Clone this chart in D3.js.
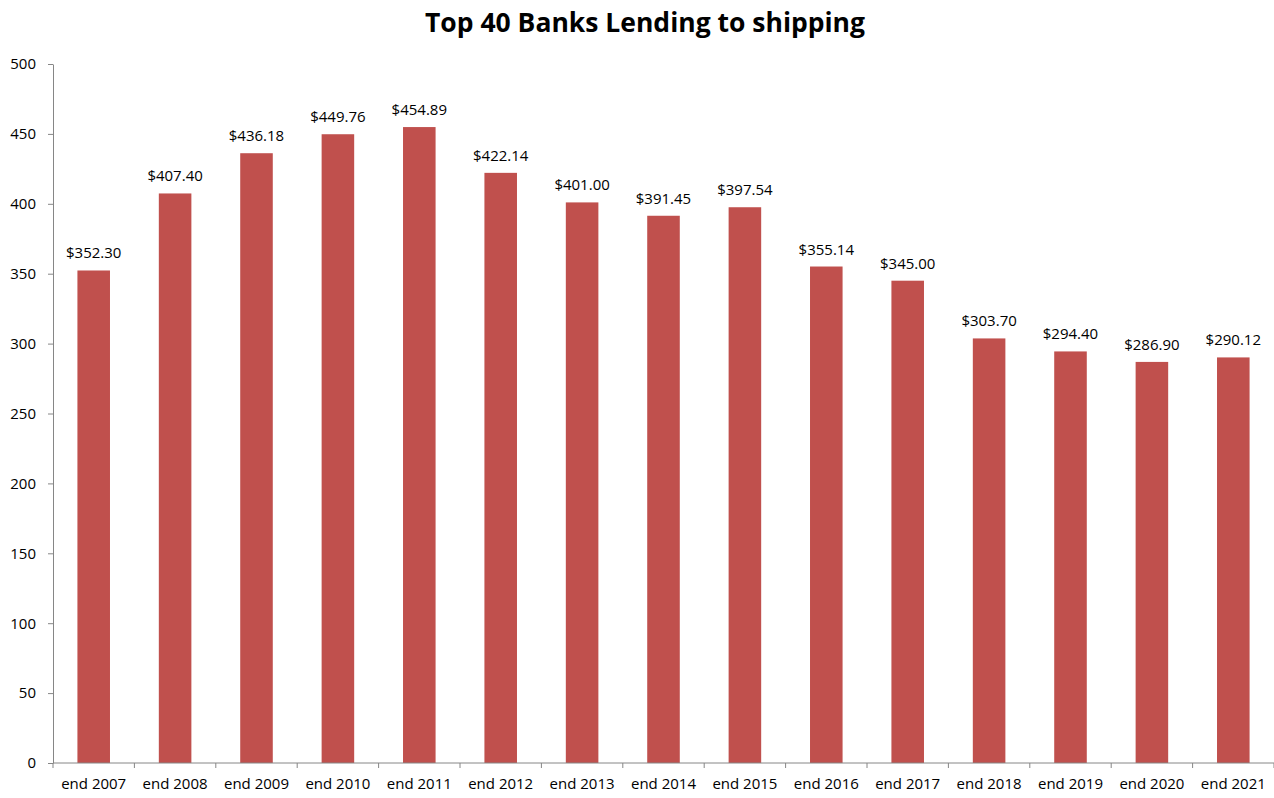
<!DOCTYPE html>
<html>
<head>
<meta charset="utf-8">
<script src="https://cdn.jsdelivr.net/npm/d3@7"></script>
<style>
  body { margin: 0; background: #fff; }
  text { font-family: "Open Sans", sans-serif; }
</style>
</head>
<body>
<div id="wrapper"></div>
<script>
// data
const categories = ["end 2007", "end 2008", "end 2009", "end 2010", "end 2011", "end 2012", "end 2013",
  "end 2014", "end 2015", "end 2016", "end 2017", "end 2018", "end 2019", "end 2020", "end 2021"]
const lending = [352.30, 407.40, 436.18, 449.76, 454.89, 422.14, 401.00, 391.45, 397.54, 355.14,
  345.00, 303.70, 294.40, 286.90, 290.12]
const yTicks = [0, 50, 100, 150, 200, 250, 300, 350, 400, 450, 500]
const title = "Top 40 Banks Lending to shipping"

const dataset = categories.map((c, i) => ({ cat: c, value: lending[i] }))

const dimensions = {
  width: 1274,
  height: 798,
  margin: { top: 64, right: 0, bottom: 35, left: 53 },
}
dimensions.boundedWidth = dimensions.width - dimensions.margin.left - dimensions.margin.right
dimensions.boundedHeight = dimensions.height - dimensions.margin.top - dimensions.margin.bottom

const wrapper = d3.select('#wrapper')
  .append('svg')
    .attr('width', dimensions.width)
    .attr('height', dimensions.height)

const bounds = wrapper.append('g')
    .attr('transform', `translate(${dimensions.margin.left},${dimensions.margin.top})`)

// scales
const xScale = d3.scaleBand()
  .domain(categories)
  .range([0, dimensions.boundedWidth])
  .paddingInner(0.6)
  .paddingOuter(0.3)

const yScale = d3.scaleLinear()
  .domain([0, 500])
  .range([dimensions.boundedHeight, 0])

// bars
bounds.append('g')
  .selectAll('rect')
  .data(dataset)
  .join('rect')
    .attr('x', d => xScale(d.cat))
    .attr('y', d => yScale(d.value))
    .attr('width', xScale.bandwidth())
    .attr('height', d => dimensions.boundedHeight - yScale(d.value))
    .attr('fill', '#C0504D')

// labels
bounds.append('g')
  .selectAll('text')
  .data(dataset)
  .join('text')
    .attr('x', d => xScale(d.cat) + xScale.bandwidth() / 2)
    .attr('y', d => yScale(d.value) - 12)
    .attr('text-anchor', 'middle')
    .style('font-size', '15px')
    .text(d => '$' + d.value.toFixed(2))

// y axis
const yAxis = bounds.append('g')
  .call(d3.axisLeft(yScale).tickValues(yTicks).tickSize(5).tickSizeOuter(0))
yAxis.selectAll('path, line').attr('stroke', '#868686')
yAxis.selectAll('text')
  .attr('x', -17)
  .attr('fill', '#000')
  .style('font-size', '15px')
  .style('font-family', '"Open Sans", sans-serif')

// x axis with ticks at band boundaries
const xAxisG = bounds.append('g')
  .attr('transform', `translate(0,${dimensions.boundedHeight})`)
xAxisG.append('line')
  .attr('x1', 0).attr('x2', dimensions.boundedWidth)
  .attr('stroke', '#868686')
const step = xScale.step()
const boundaries = d3.range(categories.length + 1).map(i => i * step)
xAxisG.selectAll('.tick')
  .data(boundaries)
  .join('line')
    .attr('class', 'tick')
    .attr('x1', d => d).attr('x2', d => d)
    .attr('y1', 0).attr('y2', 5)
    .attr('stroke', '#868686')
xAxisG.selectAll('.cat')
  .data(categories)
  .join('text')
    .attr('class', 'cat')
    .attr('x', d => xScale(d) + xScale.bandwidth() / 2)
    .attr('y', 26)
    .attr('text-anchor', 'middle')
    .style('font-size', '15px')
    .text(d => d)

// title
wrapper.append('text')
  .attr('x', 645)
  .attr('y', 32)
  .attr('text-anchor', 'middle')
  .style('font-size', '26.5px')
  .style('font-weight', 'bold')
  .text(title)
</script>
</body>
</html>
